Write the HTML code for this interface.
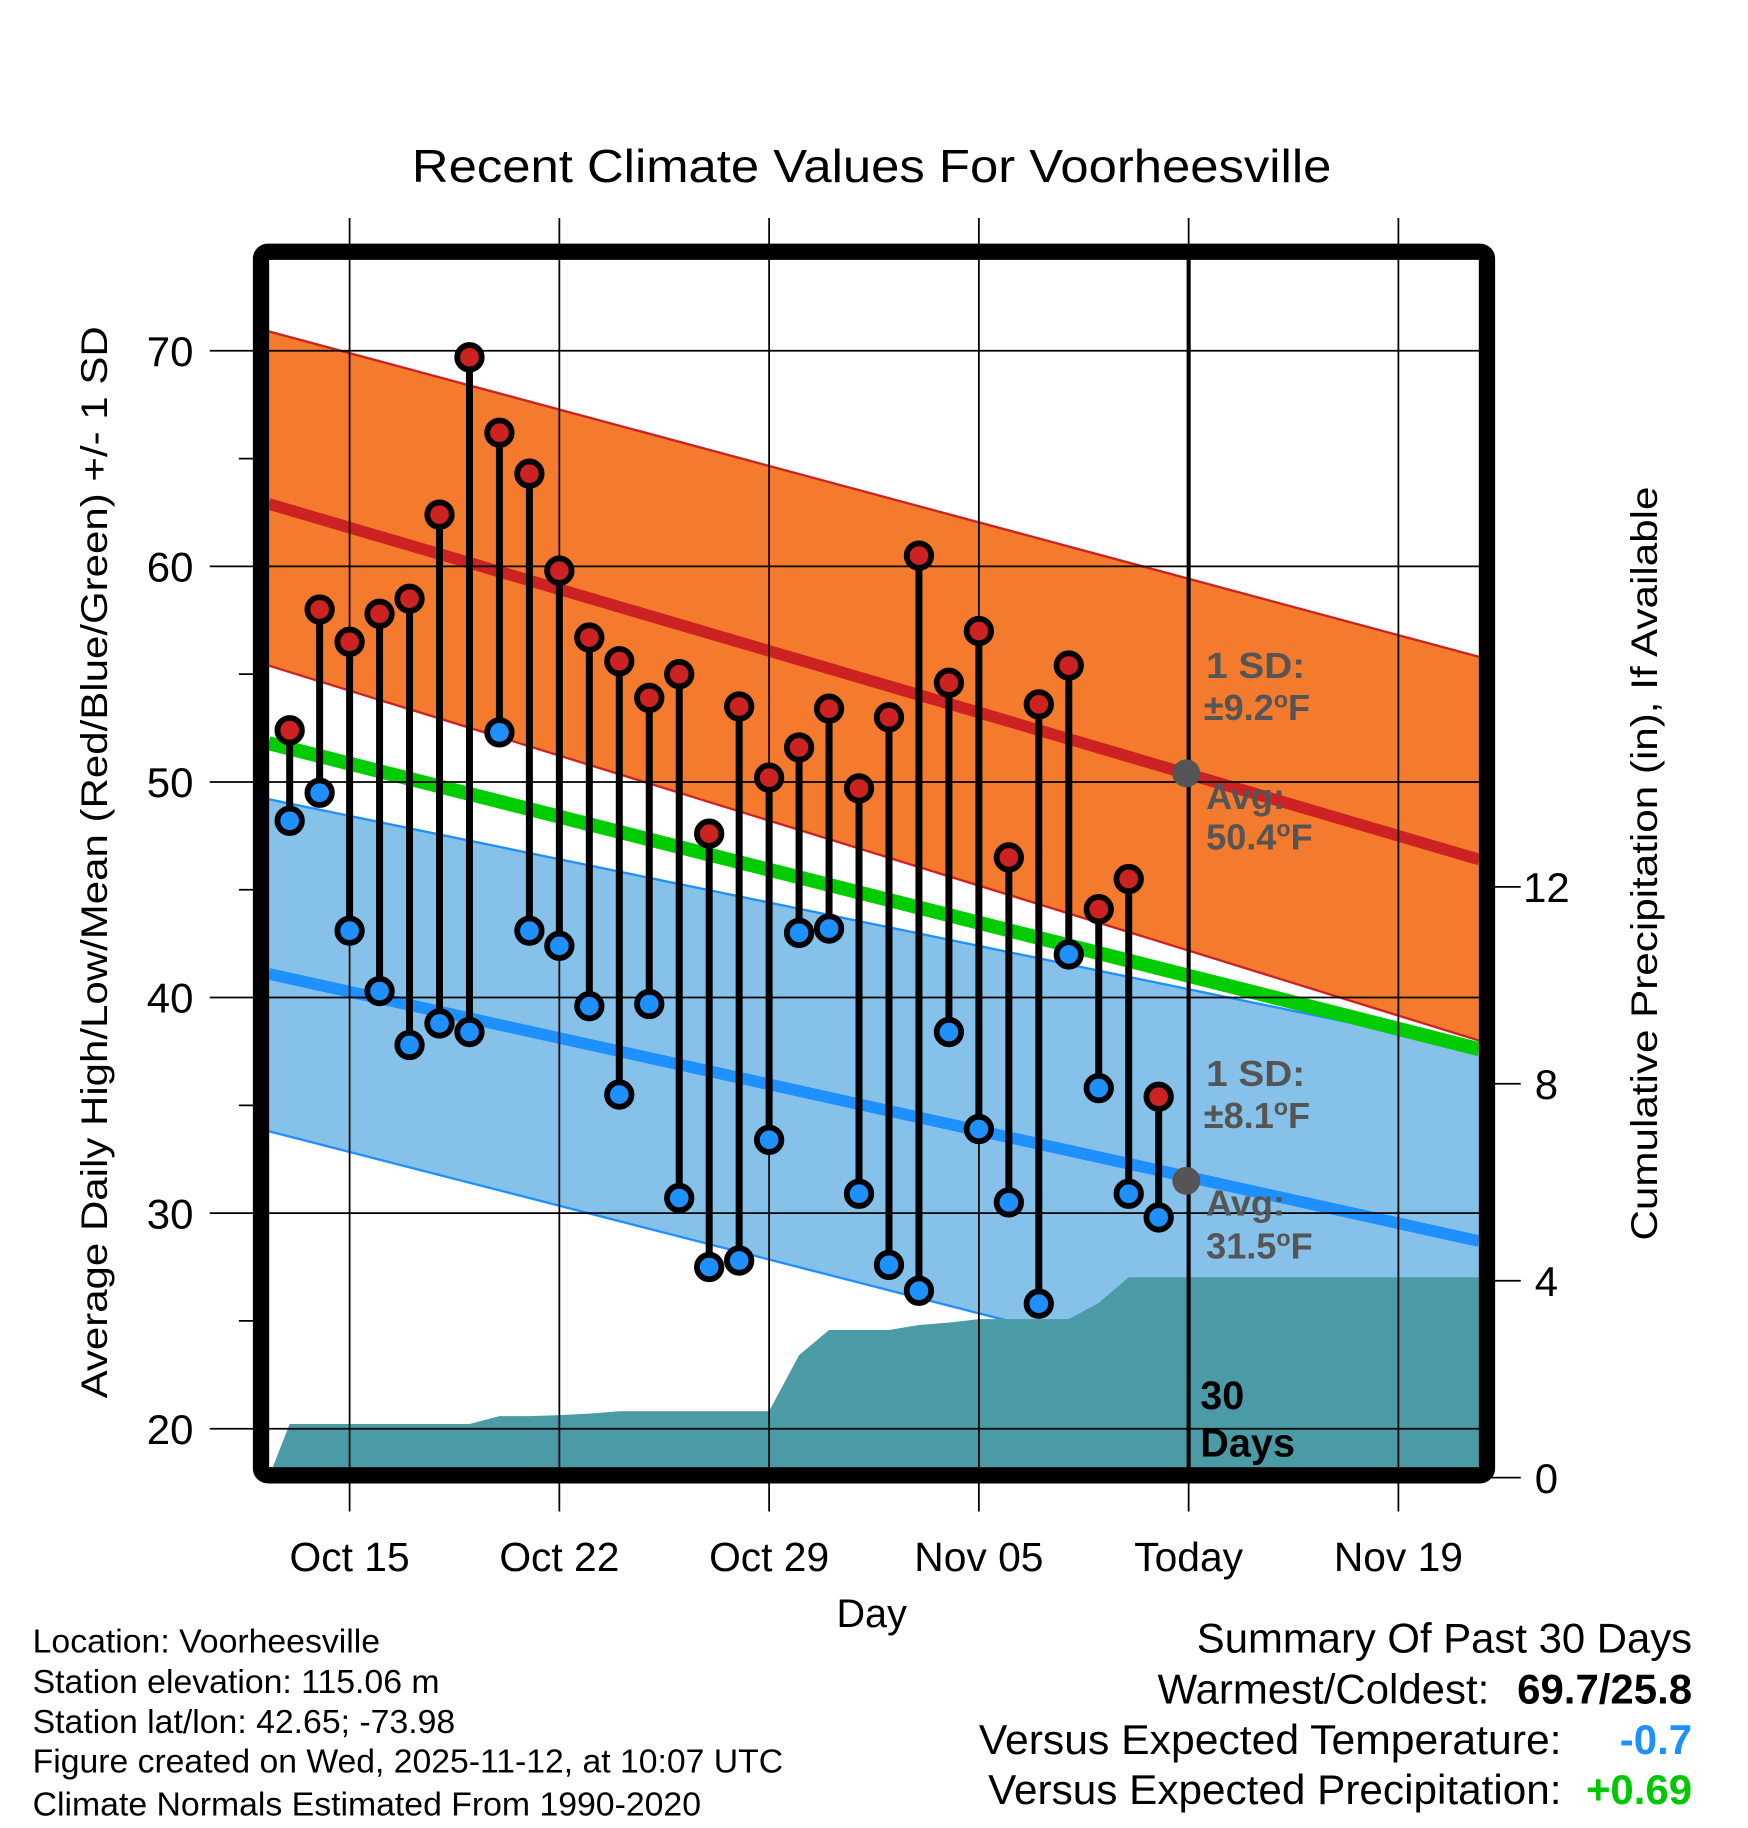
<!DOCTYPE html>
<html><head><meta charset="utf-8"><style>
html,body{margin:0;padding:0;background:#fff;}
svg{display:block;font-family:"Liberation Sans",sans-serif;}
</style></head><body>
<svg id="chart" width="1748" height="1828" viewBox="0 0 1500 1568.6" xmlns="http://www.w3.org/2000/svg">
<text x="748" y="156" font-size="40" text-anchor="middle" textLength="789" lengthAdjust="spacingAndGlyphs">Recent Climate Values For Voorheesville</text>
<defs><clipPath id="plotclip"><rect x="231" y="223" width="1038" height="1036"/></clipPath></defs>
<g id="plot" clip-path="url(#plotclip)"></g>
<g id="axes"></g>
<rect x="224" y="216" width="1052" height="1050" rx="6" fill="none" stroke="#000" stroke-width="14"/>
<text x="748" y="1396" font-size="34" text-anchor="middle">Day</text>
<text transform="translate(92,740) rotate(-90)" font-size="32" text-anchor="middle" textLength="920" lengthAdjust="spacingAndGlyphs">Average Daily High/Low/Mean (Red/Blue/Green) +/- 1 SD</text>
<text transform="translate(1422,741) rotate(-90)" font-size="32" text-anchor="middle" textLength="647" lengthAdjust="spacingAndGlyphs">Cumulative Precipitation (in), If Available</text>
<g font-size="31" font-weight="bold" fill="#555">
<text x="1035" y="582" textLength="85" lengthAdjust="spacingAndGlyphs">1 SD:</text><text x="1033" y="618">±9.2<tspan dy="-11" font-size="20">o</tspan><tspan dy="11">F</tspan></text>
<text x="1035" y="694">Avg:</text><text x="1035" y="729">50.4<tspan dy="-11" font-size="20">o</tspan><tspan dy="11">F</tspan></text>
</g>
<g font-size="31" font-weight="bold" fill="#555">
<text x="1035" y="932" textLength="85" lengthAdjust="spacingAndGlyphs">1 SD:</text><text x="1033" y="968">±8.1<tspan dy="-11" font-size="20">o</tspan><tspan dy="11">F</tspan></text>
<text x="1035" y="1043">Avg:</text><text x="1035" y="1080">31.5<tspan dy="-11" font-size="20">o</tspan><tspan dy="11">F</tspan></text>
</g>
<g font-size="34" font-weight="bold"><text x="1030" y="1209">30</text><text x="1030" y="1250">Days</text></g>
<g font-size="29">
<text x="28" y="1418">Location: Voorheesville</text>
<text x="28" y="1453">Station elevation: 115.06 m</text>
<text x="28" y="1487">Station lat/lon: 42.65; -73.98</text>
<text x="28" y="1521" textLength="644" lengthAdjust="spacingAndGlyphs">Figure created on Wed, 2025-11-12, at 10:07 UTC</text>
<text x="28" y="1558">Climate Normals Estimated From 1990-2020</text>
</g>
<g font-size="36">
<text x="1452" y="1418" text-anchor="end" textLength="425" lengthAdjust="spacingAndGlyphs">Summary Of Past 30 Days</text>
<text x="1278" y="1462" text-anchor="end">Warmest/Coldest:</text>
<text x="1452" y="1462" text-anchor="end" font-weight="bold">69.7/25.8</text>
<text x="1340" y="1505" text-anchor="end" textLength="500" lengthAdjust="spacingAndGlyphs">Versus Expected Temperature:</text>
<text x="1452" y="1505" text-anchor="end" font-weight="bold" fill="#1e90ff">-0.7</text>
<text x="1340" y="1548" text-anchor="end" textLength="492" lengthAdjust="spacingAndGlyphs">Versus Expected Precipitation:</text>
<text x="1452" y="1548" text-anchor="end" font-weight="bold" fill="#00c800">+0.69</text>
</g>
</svg>
<script>
// day index 0 = Oct 13
const highs = [52.4,58.0,56.5,57.8,58.5,62.4,69.7,66.2,64.3,59.8,56.7,55.6,53.9,55.0,47.6,53.5,50.2,51.6,53.4,49.7,53.0,60.5,54.6,57.0,46.5,53.6,55.4,44.1,45.5,35.4];
const lows = [48.2,49.5,43.1,40.3,37.8,38.8,38.4,52.3,43.1,42.4,39.6,35.5,39.7,30.7,27.5,27.8,33.4,43.0,43.2,30.9,27.6,26.4,38.4,33.9,30.5,25.8,42.0,35.8,30.9,29.8];
const precip = [1.09,1.09,1.09,1.09,1.09,1.09,1.09,1.25,1.25,1.27,1.30,1.35,1.35,1.35,1.35,1.35,1.35,2.49,3.0,3.0,3.0,3.1,3.15,3.22,3.22,3.22,3.22,3.55,4.07,4.07];
const normDays = [-0.7, 39.7];
const avgHigh = [62.9, 46.4];
const highUpper = [70.9, 55.8];
const highLower = [55.4, 38.0];
const avgLow = [41.1, 28.7];
const lowUpper = [49.2, 37.6];
const lowLower = [33.8, 19.4];
const avgMean = [51.8, 37.6];
const xTickDays = [2,9,16,23,30,37];
const xTickLabels = ["Oct 15","Oct 22","Oct 29","Nov 05","Today","Nov 19"];
const yTicks = [20,30,40,50,60,70];
const yMinor = [25,35,45,55,65];
const pTicks = [0,4,8,12];

const NS="http://www.w3.org/2000/svg";
const X = d => 300 + (d-2)*180/7;
const Y = v => 301 + (70-v)*18.5;
const P = p => 1268 - p*42.25;
function mk(parent,tag,attrs){const e=document.createElementNS(NS,tag);for(const k in attrs)e.setAttribute(k,attrs[k]);parent.appendChild(e);return e;}
const plot=document.getElementById('plot'), axes=document.getElementById('axes');

function band(up,lo,fill,name){
  const pts=[[X(normDays[0]),Y(up[0])],[X(normDays[1]),Y(up[1])],[X(normDays[1]),Y(lo[1])],[X(normDays[0]),Y(lo[0])]];
  const e=mk(plot,'polygon',{points:pts.map(p=>p.join(',')).join(' '),fill:fill});
  
  
}
function line(arr,color,w,name){
  const e=mk(plot,'line',{x1:X(normDays[0]),y1:Y(arr[0]),x2:X(normDays[1]),y2:Y(arr[1]),stroke:color,'stroke-width':w});
  
  
}
band(highUpper,highLower,'#f47a2e','high-sd-band');
band(lowUpper,lowLower,'#85c1e9','low-sd-band');
line(highUpper,'#cc2222',2,'high-upper-line');
line(highLower,'#cc2222',2,'high-lower-line');
line(lowUpper,'#1e90ff',2,'low-upper-line');
line(lowLower,'#1e90ff',2,'low-lower-line');
line(avgMean,'#00cc00',12,'avg-mean-line');
line(avgHigh,'#cc2222',10,'avg-high-line');
line(avgLow,'#1e90ff',10,'avg-low-line');

let pp=[[X(-0.7),P(0)]];
precip.forEach((v,i)=>pp.push([X(i),P(v)]));
pp.push([X(40),P(precip[precip.length-1])],[X(40),P(0)]);
const area=mk(plot,'polygon',{points:pp.map(p=>p.join(',')).join(' '),fill:'#4a9ba5'});



xTickDays.forEach((d,i)=>{
  const g=mk(axes,'line',{x1:X(d),y1:187,x2:X(d),y2:1297,stroke:'#000','stroke-width':1.5});
  
  
  const t=mk(axes,'text',{x:X(d),y:1348,'font-size':35,'text-anchor':'middle'});
  t.textContent=xTickLabels[i];
  
  
});
yTicks.forEach(v=>{
  const g=mk(axes,'line',{x1:180,y1:Y(v),x2:1270,y2:Y(v),stroke:'#000','stroke-width':1.5});
  
  
  const t=mk(axes,'text',{x:166,y:Y(v)+13,'font-size':36,'text-anchor':'end'});
  t.textContent=v;
  
  
});
yMinor.forEach(v=>{
  const g=mk(axes,'line',{x1:205,y1:Y(v),x2:220,y2:Y(v),stroke:'#000','stroke-width':1.5});
  
  
});
pTicks.forEach(v=>{
  const g=mk(axes,'line',{x1:1280,y1:P(v),x2:1305,y2:P(v),stroke:'#000','stroke-width':1.5});
  
  
  const t=mk(axes,'text',{x:1327,y:P(v)+13,'font-size':36,'text-anchor':'middle'});
  t.textContent=v;
  
  
});
const today=mk(axes,'line',{x1:X(30),y1:220,x2:X(30),y2:1262,stroke:'#000','stroke-width':3.5});



highs.forEach((h,i)=>{
  const s=mk(axes,'line',{x1:X(i),y1:Y(h),x2:X(i),y2:Y(lows[i]),stroke:'#000','stroke-width':6});
  
  
});
highs.forEach((h,i)=>{
  const c=mk(axes,'circle',{cx:X(i),cy:Y(h),r:10.5,fill:'#cc2222',stroke:'#000','stroke-width':5});
  
  
  const c2=mk(axes,'circle',{cx:X(i),cy:Y(lows[i]),r:10.5,fill:'#1e90ff',stroke:'#000','stroke-width':5});
  
  
});
const gh=mk(axes,'circle',{cx:X(30)-2,cy:Y(50.4),r:12,fill:'#555'});


const gl=mk(axes,'circle',{cx:X(30)-2,cy:Y(31.5),r:12,fill:'#555'});


</script>
</body></html>
